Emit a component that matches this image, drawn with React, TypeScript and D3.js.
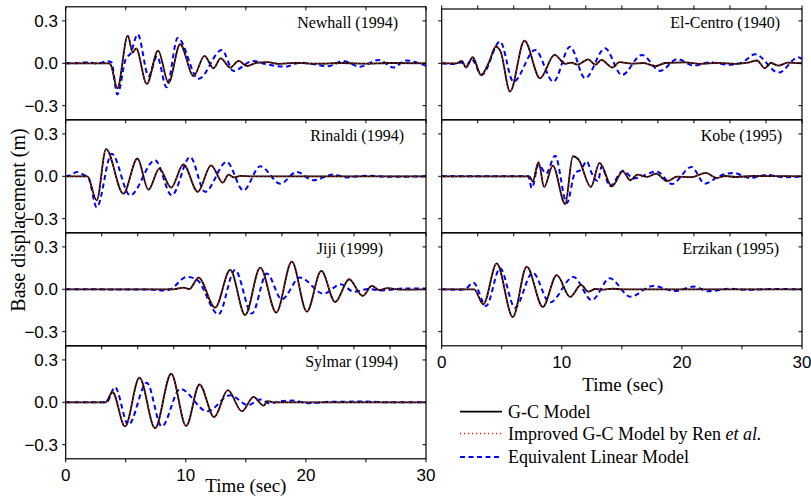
import React from 'react';
import * as d3 from 'd3';

type Pt = [number, number];

// axis ticks
const timeTicks = [0, 10, 20, 30];
const dispTicks = [-0.3, 0.0, 0.3];
const legendLabels = ['G-C Model', 'Improved G-C Model by Ren ', 'Equivalent Linear Model'];

// [time (sec), base displacement (m)]
const gcNewhall: Pt[] = [[0, 0], [3.6, 0], [3.75, -0.01], [4.3, -0.177], [5.17, 0.196], [5.58, 0.076], [5.86, 0.106], [6.75, -0.146], [7.69, 0.09], [8.56, -0.137], [9.53, 0.135], [10.64, -0.09], [11.56, 0.052], [12.3, -0.035], [12.9, 0.035], [13.7, -0.03], [14.4, 0.017], [15.1, -0.02], [15.9, 0.004], [16.8, 0.008], [17.8, -0.004], [19, 0.003], [21, -0.003], [23, 0.002], [25, -0.002], [27, 0.002], [30, 0]];
const elNewhall: Pt[] = [[0, 0], [1.2, 0.002], [1.9, 0.008], [2.6, -0.002], [3.5, 0.015], [3.8, 0.008], [4.3, -0.22], [5.0, 0.03], [5.4, 0.07], [6.0, 0.205], [6.9, -0.09], [7.6, 0.05], [8.4, -0.17], [9.33, 0.18], [11.06, -0.11], [13.0, 0.094], [13.97, -0.054], [15.6, 0.017], [16.5, -0.003], [18.3, -0.024], [19.5, 0.005], [21.9, -0.02], [23.1, 0.017], [24.5, -0.024], [26.06, 0.024], [27.3, -0.03], [28.3, 0.02], [30, -0.018]];

const gcRinaldi: Pt[] = [[0, 0], [1.8, 0], [2.58, -0.171], [3.36, 0.192], [4.8, -0.123], [5.97, 0.126], [6.89, -0.095], [7.8, 0.055], [8.78, -0.08], [9.8, 0.085], [11.0, -0.11], [12.1, 0.078], [13.08, -0.045], [13.55, 0.012], [14.0, -0.008], [14.6, 0.003], [15.5, 0], [30, 0]];
const elRinaldi: Pt[] = [[0, 0], [0.5, 0.01], [0.9, 0.03], [1.5, 0.01], [1.9, -0.01], [2.58, -0.22], [3.83, 0.16], [5.36, -0.135], [7.44, 0.114], [8.83, -0.135], [10.36, 0.137], [11.6, -0.11], [13.4, 0.102], [14.8, -0.1], [16.2, 0.071], [17.86, -0.052], [19.25, 0.031], [20.6, -0.028], [22.3, 0.012], [23.4, -0.008], [25, 0.004], [27, -0.004], [30, 0]];

const gcJiji: Pt[] = [[0, 0], [9.0, 0], [9.8, 0.012], [10.3, 0.002], [11.06, 0.083], [12.44, -0.13], [13.7, 0.137], [14.94, -0.182], [16.2, 0.154], [17.53, -0.165], [18.83, 0.196], [20.08, -0.158], [21.28, 0.13], [22.44, -0.09], [23.6, 0.071], [24.72, -0.047], [25.5, 0.024], [26.1, -0.005], [26.8, 0.008], [27.8, -0.002], [30, 0]];
const elJiji: Pt[] = [[0, 0], [7.0, -0.002], [8.1, -0.008], [8.7, 0], [10.08, 0.087], [10.9, 0.07], [12.72, -0.177], [14.1, 0.137], [15.5, -0.172], [16.75, 0.111], [18.0, -0.071], [19.5, 0.083], [21.47, -0.031], [22.9, 0.035], [24.0, -0.017], [25.2, 0.002], [26.3, -0.008], [28.3, 0.006], [30, 0.005]];

const gcSylmar: Pt[] = [[0, 0], [3.3, 0], [3.9, 0.071], [4.94, -0.171], [6.14, 0.174], [7.44, -0.183], [8.78, 0.202], [10.03, -0.167], [11.14, 0.126], [12.36, -0.105], [13.5, 0.086], [14.67, -0.064], [15.64, 0.038], [16.47, -0.024], [16.8, 0.008], [17.3, 0], [30, 0]];
const elSylmar: Pt[] = [[0, 0], [3.4, 0], [4.1, 0.107], [5.22, -0.16], [6.75, 0.138], [8.0, -0.171], [9.53, 0.095], [11.8, -0.064], [13.7, 0.05], [15.2, -0.02], [16.2, 0.02], [17.0, -0.008], [17.8, 0.006], [18.9, 0.012], [20.2, -0.006], [22.2, 0.004], [25.0, 0.005], [27, 0], [30, 0]];

const gcElCentro: Pt[] = [[0, 0], [1.25, 0], [1.67, 0.017], [2.03, -0.03], [2.58, 0.043], [3.28, -0.083], [3.95, 0.01], [4.5, 0.118], [4.9, 0.085], [5.69, -0.2], [6.89, 0.16], [8.19, -0.106], [9.39, 0.059], [10.3, -0.004], [10.8, 0.005], [11.3, -0.01], [12.2, 0.028], [12.8, -0.01], [13.3, 0.024], [14.2, -0.03], [14.8, 0.008], [15.8, -0.002], [16.8, 0.002], [17.8, -0.02], [18.6, 0.002], [20.3, 0.006], [21.5, -0.004], [23, 0.003], [24.5, -0.004], [25.5, 0.004], [26.25, 0.02], [26.9, -0.035], [27.4, 0.002], [28.05, -0.017], [28.8, 0.005], [30, 0]];
const elElCentro: Pt[] = [[0, 0], [1.0, -0.005], [1.6, 0.005], [2.1, -0.01], [2.5, 0.028], [3.33, -0.083], [4.86, 0.154], [5.97, -0.13], [7.78, 0.094], [9.3, -0.13], [10.69, 0.118], [11.94, -0.106], [13.6, 0.106], [15.0, -0.083], [16.67, 0.059], [18.2, -0.054], [19.6, 0.03], [21.0, -0.017], [22.3, 0.006], [23.9, -0.01], [25.0, 0.005], [26.1, 0.064], [28.05, -0.066], [29.7, 0.043], [30, 0.03]];

const gcKobe: Pt[] = [[0, 0], [7.3, 0], [7.58, -0.035], [8.06, 0.1], [8.53, -0.076], [9.25, 0.076], [10.28, -0.196], [10.92, 0.142], [11.4, 0.118], [12.42, -0.076], [13.14, 0.095], [14.17, -0.071], [15.08, 0.035], [15.7, -0.028], [16.3, 0.012], [17.1, -0.004], [17.86, 0.019], [18.75, -0.035], [19.6, -0.002], [20.8, -0.006], [22.0, 0.024], [22.9, -0.012], [23.6, 0.002], [24.5, -0.005], [26, 0.002], [30, 0]];
const elKobe: Pt[] = [[0, 0], [7.2, 0], [7.5, -0.083], [8.06, 0.083], [8.7, 0.02], [9.44, 0.146], [10.42, -0.189], [11.1, 0.024], [11.6, 0.047], [12.08, 0.106], [12.5, 0.02], [13.0, -0.035], [13.33, 0.071], [14.0, -0.071], [15.1, 0.04], [16.0, -0.016], [17.0, 0.012], [17.9, 0.035], [19.17, -0.054], [20.8, 0.066], [21.9, -0.052], [23.2, 0.005], [24.3, 0.024], [25.7, -0.012], [27.1, 0.009], [28.5, -0.007], [30, 0]];

const gcErzikan: Pt[] = [[0, 0], [2.7, 0], [3.47, -0.106], [4.58, 0.184], [5.92, -0.196], [7.08, 0.16], [8.42, -0.125], [9.58, 0.1], [10.69, -0.054], [11.6, 0.031], [12.2, -0.017], [12.8, 0.002], [13.5, -0.002], [14.2, 0.004], [15, 0], [30, 0]];
const elErzikan: Pt[] = [[0, 0], [1.5, -0.003], [2.0, 0.005], [2.64, 0.047], [3.7, -0.118], [4.86, 0.149], [6.1, -0.13], [7.58, 0.118], [9.0, -0.094], [10.97, 0.087], [12.5, -0.076], [14.0, 0.078], [15.7, -0.052], [17.6, 0.024], [19.4, -0.012], [21.0, 0.019], [22.2, -0.014], [24.0, 0.005], [25.5, -0.004], [27.5, 0.002], [30, 0]];

// the improved model overlays the G-C model almost exactly
const renNewhall = gcNewhall;
const renRinaldi = gcRinaldi;
const renJiji = gcJiji;
const renSylmar = gcSylmar;
const renElCentro = gcElCentro;
const renKobe = gcKobe;
const renErzikan = gcErzikan;

const records = [
  { name: 'Newhall (1994)', gc: gcNewhall, ren: renNewhall, el: elNewhall },
  { name: 'Rinaldi (1994)', gc: gcRinaldi, ren: renRinaldi, el: elRinaldi },
  { name: 'Jiji (1999)', gc: gcJiji, ren: renJiji, el: elJiji },
  { name: 'Sylmar (1994)', gc: gcSylmar, ren: renSylmar, el: elSylmar },
  { name: 'El-Centro (1940)', gc: gcElCentro, ren: renElCentro, el: elElCentro },
  { name: 'Kobe (1995)', gc: gcKobe, ren: renKobe, el: elKobe },
  { name: 'Erzikan (1995)', gc: gcErzikan, ren: renErzikan, el: elErzikan },
];

// layout: column, row, where the title ends, top tick step/direction
const layout = [
  { col: 0, row: 0, titleX: 398, topStep: 5, topDir: 1 },
  { col: 0, row: 1, titleX: 404, topStep: 5, topDir: 1 },
  { col: 0, row: 2, titleX: 383, topStep: 3, topDir: 1 },
  { col: 0, row: 3, titleX: 398, topStep: 3, topDir: 1 },
  { col: 1, row: 0, titleX: 780, topStep: 3, topDir: -1 },
  { col: 1, row: 1, titleX: 782, topStep: 3, topDir: 1 },
  { col: 1, row: 2, titleX: 779, topStep: 3, topDir: 1 },
];

const W = 811;
const H = 496;
const colX = [[65.7, 426], [441.7, 802]];
const top0 = 6.8;
const rowH = 113;
const tk = 3.5;
const sans = 'Liberation Sans, Arial, sans-serif';
const serif = 'Liberation Serif, Times New Roman, serif';

const styles = {
  gc: { stroke: '#000', strokeWidth: 1.8, dash: undefined as string | undefined },
  ren: { stroke: '#ff1a1a', strokeWidth: 1.3, dash: '1.2,2.8' },
  el: { stroke: '#0000ff', strokeWidth: 2, dash: '5,3.5' },
};

const Panel = ({ rec, lay, lastInCol }: any) => {
  const [x0, x1] = colX[lay.col];
  const top = top0 + lay.row * rowH;
  const bottom = top + rowH;
  const x = d3.scaleLinear().domain([0, 30]).range([x0, x1]);
  const y = d3.scaleLinear().domain([-0.4, 0.4]).range([bottom, top]);
  const line = d3.line<Pt>().x(d => x(d[0])).y(d => y(d[1])).curve(d3.curveMonotoneX);
  const frameTop = lay.topDir < 0 ? top + 2.2 : top;
  const topTicks = d3.range(0, 30.001, lay.topStep);
  const botTicks = d3.range(0, 30.001, 5);
  return (
    <g>
      <path d={line(rec.el) || ''} fill="none" stroke={styles.el.stroke} strokeWidth={styles.el.strokeWidth} strokeDasharray={styles.el.dash} />
      <path d={line(rec.gc) || ''} fill="none" stroke={styles.gc.stroke} strokeWidth={styles.gc.strokeWidth} />
      <path d={line(rec.ren) || ''} fill="none" stroke={styles.ren.stroke} strokeWidth={styles.ren.strokeWidth} strokeDasharray={styles.ren.dash} />
      <rect x={x0} y={frameTop} width={x1 - x0} height={bottom - frameTop} fill="none" stroke="#000" strokeWidth={1.2} />
      {topTicks.map(t => (
        <line key={'t' + t} x1={x(t)} x2={x(t)} y1={frameTop} y2={frameTop + lay.topDir * tk} stroke="#000" strokeWidth={1} />
      ))}
      {lastInCol && botTicks.map(t => (
        <line key={'b' + t} x1={x(t)} x2={x(t)} y1={bottom} y2={bottom + tk} stroke="#000" strokeWidth={1} />
      ))}
      {dispTicks.map(v => (
        <g key={'v' + v}>
          <line x1={x0 - tk} x2={x0} y1={y(v)} y2={y(v)} stroke="#000" strokeWidth={1} />
          <line x1={x1 - tk} x2={x1} y1={y(v)} y2={y(v)} stroke="#000" strokeWidth={1} />
          {lay.col === 0 && (
            <text x={58} y={y(v) + 6} textAnchor="end" fontFamily={sans} fontSize={17}>{d3.format('.1f')(v)}</text>
          )}
        </g>
      ))}
      <text x={lay.titleX} y={top + 21} textAnchor="end" fontFamily={serif} fontSize={16}>{rec.name}</text>
      {lastInCol && timeTicks.map(t => (
        <text key={'l' + t} x={x(t)} y={bottom + 22} textAnchor="middle" fontFamily={sans} fontSize={17}>{t}</text>
      ))}
      {lastInCol && (
        <text x={(x0 + x1) / 2 + (lay.col === 0 ? 0 : 1)} y={bottom + (lay.col === 0 ? 33 : 45.5)} textAnchor="middle" fontFamily={serif} fontSize={19}>Time (sec)</text>
      )}
    </g>
  );
};

const Legend = () => {
  const rows = [
    { s: styles.gc, y: 411.7 },
    { s: styles.ren, y: 433.5 },
    { s: styles.el, y: 457 },
  ];
  return (
    <g>
      {rows.map((r, i) => (
        <g key={i}>
          <line x1={460} x2={502} y1={r.y} y2={r.y} stroke={r.s.stroke} strokeWidth={r.s.strokeWidth} strokeDasharray={r.s.dash} />
          <text x={508} y={r.y + 6} fontFamily={serif} fontSize={18}>
            {legendLabels[i]}
            {i === 1 && <tspan fontStyle="italic">et al.</tspan>}
          </text>
        </g>
      ))}
    </g>
  );
};

export default function App() {
  return (
    <svg width={W} height={H} style={{ position: 'absolute', left: 0, top: 0, background: '#fff' }}>
      {records.map((rec, i) => (
        <Panel key={rec.name} rec={rec} lay={layout[i]} lastInCol={i === 3 || i === 6} />
      ))}
      <text transform={`translate(25,${220}) rotate(-90)`} textAnchor="middle" fontFamily={serif} fontSize={20}>Base displacement (m)</text>
      <Legend />
    </svg>
  );
}
